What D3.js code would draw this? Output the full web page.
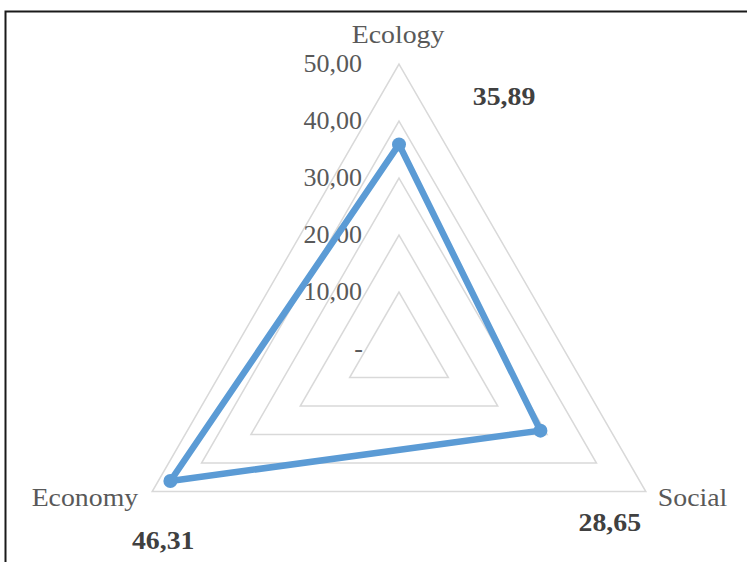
<!DOCTYPE html>
<html>
<head>
<meta charset="utf-8">
<script src="https://cdn.jsdelivr.net/npm/d3@7"></script>
<style>
  html, body { margin: 0; padding: 0; background: #fff; }
  svg { display: block; }
</style>
</head>
<body>
<svg id="chart" width="747" height="562"></svg>
<script>
// ---- data ----
const categories = ["Ecology", "Social", "Economy"];
const values = [35.89, 28.65, 46.31];
const valueLabels = ["35,89", "28,65", "46,31"];
const tickValues = [0, 10, 20, 30, 40, 50];
const tickLabels = ["-", "10,00", "20,00", "30,00", "40,00", "50,00"];

// ---- layout ----
const W = 747, H = 562;
const cx = 399, cy = 349;
const svg = d3.select("#chart");

const r = d3.scaleLinear().domain([0, 50]).range([0, 285]);
const angle = d3.scalePoint().domain(categories).range([0, 2 * Math.PI * 2 / 3]);
function pt(cat, v) {
  const a = angle(cat);
  return [cx + r(v) * Math.sin(a), cy - r(v) * Math.cos(a)];
}

// border (top + left visible)
svg.append("path")
  .attr("d", `M5.5,${H + 5} L5.5,11.5 L${W + 5},11.5`)
  .attr("fill", "none").attr("stroke", "#1a1a1a").attr("stroke-width", 2);

const fontFam = "'Liberation Serif', 'Times New Roman', serif";
const stretch = 1.07;

// grid rings
const line = d3.line();
svg.append("g").selectAll("path")
  .data(tickValues.filter(d => d > 0))
  .join("path")
  .attr("d", t => line(categories.map(c => pt(c, t))) + "Z")
  .attr("fill", "none")
  .attr("stroke", "#d9d9d9")
  .attr("stroke-width", 1.5);

// tick labels
svg.append("g").selectAll("text")
  .data(tickValues)
  .join("text")
  .attr("x", d => d === 0 ? cx - 36 : cx - 37)
  .attr("y", d => pt(categories[0], d)[1] + 8)
  .attr("text-anchor", "end")
  .attr("font-family", fontFam)
  .attr("font-size", 26)
  .attr("fill", "#595959")
  .text((d, i) => tickLabels[i]);

// category labels
const catOffsets = {
  "Ecology": { dx: -1, dy: -21, anchor: "middle" },
  "Social": { dx: 12, dy: 14, anchor: "start" },
  "Economy": { dx: -14, dy: 14, anchor: "end" }
};
svg.append("g").selectAll("text")
  .data(categories)
  .join("text")
  .attr("transform", c => `translate(${pt(c, 50)[0] + catOffsets[c].dx},${pt(c, 50)[1] + catOffsets[c].dy}) scale(${stretch},1)`)
  .attr("text-anchor", c => catOffsets[c].anchor)
  .attr("font-family", fontFam)
  .attr("font-size", 26)
  .attr("fill", "#595959")
  .text(c => c);

// series
const seriesPts = categories.map((c, i) => pt(c, values[i]));
svg.append("path")
  .attr("d", line(seriesPts) + "Z")
  .attr("fill", "none")
  .attr("stroke", "#5b9bd5")
  .attr("stroke-width", 6.5)
  .attr("stroke-linejoin", "round");
svg.append("g").selectAll("circle")
  .data(seriesPts)
  .join("circle")
  .attr("cx", d => d[0]).attr("cy", d => d[1])
  .attr("r", 7)
  .attr("fill", "#5b9bd5");

// value labels
const valOffsets = {
  "Ecology": { dx: 105, dy: 41 },
  "Social": { dx: -36, dy: 39 },
  "Economy": { dx: 11, dy: 57 }
};
svg.append("g").selectAll("text")
  .data(categories)
  .join("text")
  .attr("transform", c => `translate(${pt(c, 50)[0] + valOffsets[c].dx},${pt(c, 50)[1] + valOffsets[c].dy}) scale(${stretch},1)`)
  .attr("text-anchor", "middle")
  .attr("font-family", fontFam)
  .attr("font-size", 26)
  .attr("font-weight", "bold")
  .attr("fill", "#404040")
  .text((c, i) => valueLabels[i]);
</script>
</body>
</html>
